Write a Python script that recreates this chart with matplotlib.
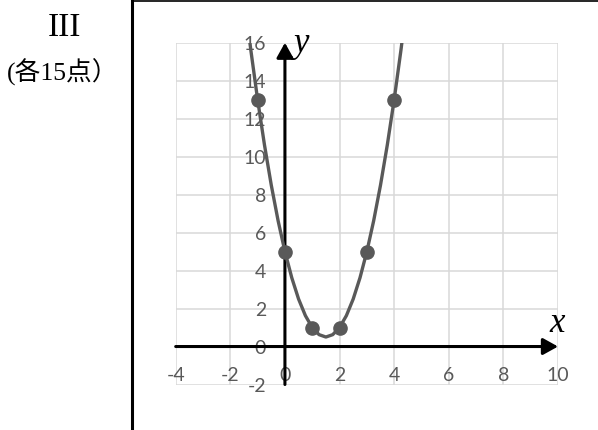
import numpy as np
import matplotlib
matplotlib.use('Agg')
import matplotlib.pyplot as plt
from matplotlib.lines import Line2D

plt.rcParams['axes.unicode_minus'] = False

# Точки таблицы значений
points_x = [-1, 0, 1, 2, 3, 4]
points_y = [13, 5, 1, 1, 5, 13]

# Сглаженная кривая
curve_x = [-1.5, -1.25, -1.0, -0.75, -0.5, -0.25, 0.0, 0.25, 0.5, 0.75, 1.0, 1.25,
           1.5, 1.75, 2.0, 2.25, 2.5, 2.75, 3.0, 3.25, 3.5, 3.75, 4.0, 4.25, 4.5]
curve_y = [18.5, 15.625, 13.0, 10.625, 8.5, 6.625, 5.0, 3.625, 2.5, 1.625, 1.0, 0.625,
           0.5, 0.625, 1.0, 1.625, 2.5, 3.625, 5.0, 6.625, 8.5, 10.625, 13.0, 15.625, 18.5]

x_ticks = list(range(-4, 11, 2))
y_ticks = list(range(-2, 17, 2))

W, H = 598, 430
fig = plt.figure(figsize=(W / 100, H / 100), dpi=100)

# Область графика
left, right, top, bottom = 175.7, 558.0, 42.7, 384.5
ax = fig.add_axes([left / W, 1 - bottom / H, (right - left) / W, (bottom - top) / H])
ax.set_xlim(-4, 10)
ax.set_ylim(-2, 16)
ax.set_xticks(x_ticks)
ax.set_yticks(y_ticks)
ax.grid(True, color='#d9d9d9', lw=1.1)
ax.set_axisbelow(True)

for side in ['left', 'bottom']:
    ax.spines[side].set_position('zero')
    ax.spines[side].set_color('none')
for side in ['right', 'top']:
    ax.spines[side].set_visible(False)

ax.tick_params(axis='both', length=0, colors='#595959', labelsize=14)
ax.tick_params(axis='y', pad=13.5)
ax.tick_params(axis='x', pad=15)
for lbl in ax.get_xticklabels() + ax.get_yticklabels():
    lbl.set_fontfamily('Lato')

# Оси со стрелками
arrow = dict(arrowstyle='-|>,head_length=0.45,head_width=0.25', lw=2.2, color='black',
             mutation_scale=20, shrinkA=0, shrinkB=0)
ax.annotate('', xy=(0, 1), xytext=(0, 0), xycoords=('data', 'axes fraction'),
            textcoords=('data', 'axes fraction'), arrowprops=arrow, zorder=2)
ax.annotate('', xy=(1, 0), xytext=(0, 0), xycoords=('axes fraction', 'data'),
            textcoords=('axes fraction', 'data'), arrowprops=arrow, zorder=2)

ax.plot(curve_x, curve_y, color='#595959', lw=2.4, zorder=3)
ax.plot(points_x, points_y, 'o', color='#595959', ms=9.5, zorder=4)

# Подписи осей
fig.text(557 / W, 1 - 324 / H, 'x', fontsize=25, style='italic',
         family='Liberation Serif', ha='center', va='center')
fig.text(302 / W, 1 - 44 / H, 'y', fontsize=25, style='italic',
         family='Liberation Serif', ha='center', va='center')

# Рамка таблицы
fig.add_artist(Line2D([131.7 / W, 131.7 / W], [0, 1], color='black', lw=2.2))
fig.add_artist(Line2D([131.7 / W, 1], [1 - 0.8 / H, 1 - 0.8 / H], color='black', lw=1.2))

fig.text(64.5 / W, 1 - 28 / H, 'III', fontsize=24, family='Liberation Serif',
         ha='center', va='center')
fig.text(63 / W, 1 - 72 / H, '(各15点）', fontsize=18.5,
         family=['Liberation Serif', 'Noto Sans CJK JP'], ha='center', va='center')

fig.savefig('out.png', dpi=100)
